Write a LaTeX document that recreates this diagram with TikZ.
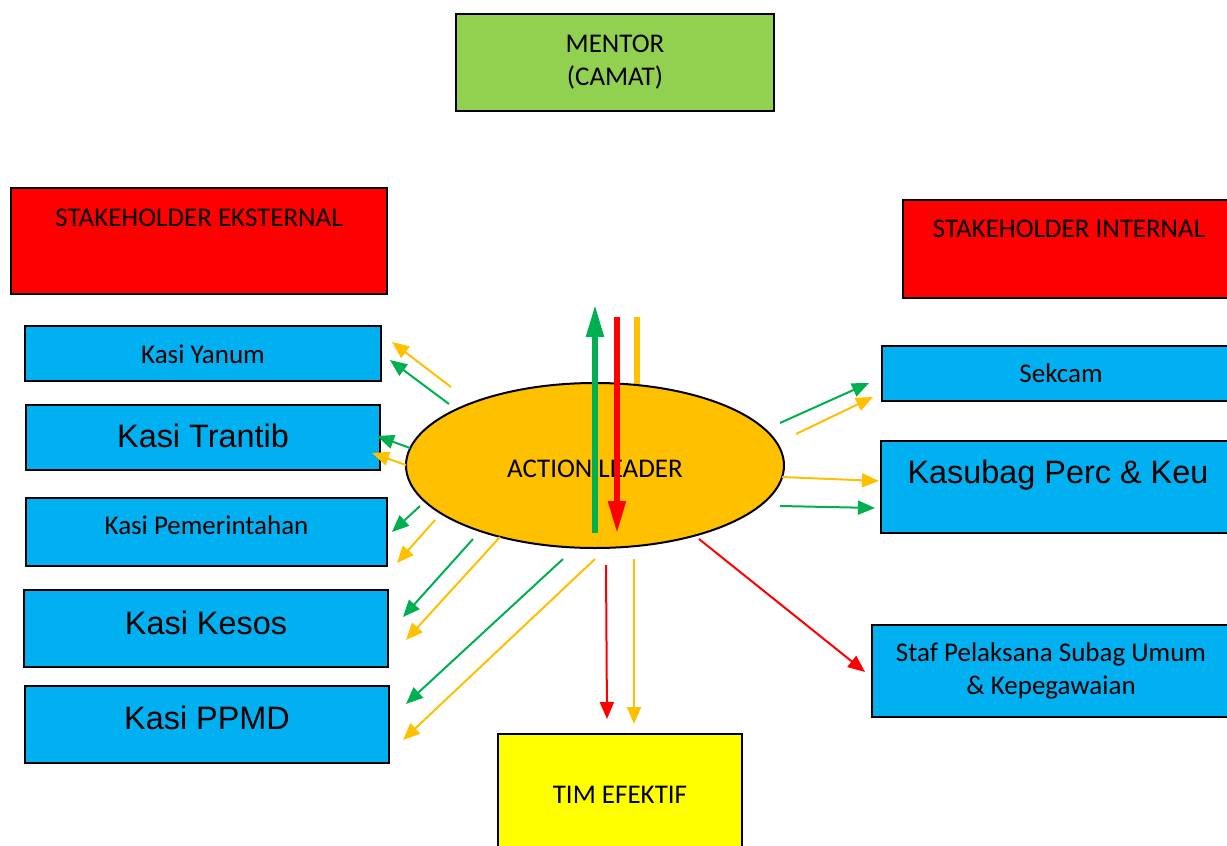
\documentclass[tikz,border=0pt]{standalone}
\usepackage{fontspec}
\setmainfont{Carlito}
\newfontfamily\arialf{Liberation Sans}
\usetikzlibrary{arrows.meta,shapes.geometric}
\definecolor{cblue}{HTML}{00B0F0}
\definecolor{cred}{HTML}{FF0000}
\definecolor{cgreenbox}{HTML}{92D050}
\definecolor{cyel}{HTML}{FFFF00}
\definecolor{corange}{HTML}{FFC000}
\definecolor{cgreen}{HTML}{00B050}
\begin{document}
\begin{tikzpicture}[x=0.5pt,y=-0.5pt,
  box/.style={draw=black, line width=1pt, inner sep=0pt, anchor=north west},
  cal/.style={font=\fontsize{13.5}{16.5}\selectfont},
  ari/.style={font=\arialf\fontsize{16.2}{19}\selectfont},
  arrthin/.style={line width=1pt, -{Triangle[length=8.5pt,width=7pt]}},
  bigline/.style={line width=2.6pt},
  bigarr/.style={line width=2.6pt, -{Triangle[length=16pt,width=8.5pt]}}]
\useasboundingbox (0,0) rectangle (1227,846);
\clip (0,0) rectangle (1227,846);

% boxes
\node[box, fill=cgreenbox, cal, align=center, minimum width=159pt, minimum height=48.5pt] (mentor) at (455,13) {MENTOR\\(CAMAT)};
\node[box, fill=cred, cal, minimum width=188pt, text height=19pt, text depth=34pt] (ext) at (10,187) {STAKEHOLDER EKSTERNAL};
\node[box, fill=cred, cal, minimum width=166pt, text height=18.5pt, text depth=30.5pt] (int) at (902,199) {STAKEHOLDER INTERNAL};

\node[box, fill=cblue, cal, minimum width=178pt, text height=18.5pt, text depth=9pt] (yanum) at (24,325) {Kasi Yanum};
\node[box, fill=cblue, ari, minimum width=177pt, text height=21pt, text depth=11.5pt] (trantib) at (25,404) {Kasi Trantib};
\node[box, fill=cblue, cal, minimum width=180.5pt, text height=18pt, text depth=16pt] (pem) at (25,497) {Kasi Pemerintahan};
\node[box, fill=cblue, ari, minimum width=182pt, text height=22pt, text depth=16.5pt] (kesos) at (23,589) {Kasi Kesos};
\node[box, fill=cblue, ari, minimum width=182pt, text height=21.5pt, text depth=17pt] (ppmd) at (24,685) {Kasi PPMD};

\node[box, fill=cblue, cal, minimum width=179pt, text height=18pt, text depth=9.5pt] (sekcam) at (881,345) {Sekcam};
\node[box, fill=cblue, ari, minimum width=177pt, text height=21pt, text depth=25pt] (kasubag) at (880,440) {Kasubag Perc \& Keu};
\node[box, fill=cblue, cal, align=center, minimum width=179pt, minimum height=46pt] (staf) at (871,624) {Staf Pelaksana Subag Umum\\\& Kepegawaian};

\node[box, fill=cyel, cal, minimum width=122pt, text height=34.5pt, text depth=30.5pt] (tim) at (497,733) {TIM EFEKTIF};

% orange line behind the ellipse
\coordinate (o1) at (637,317);
\coordinate (o2) at (637,533);
\draw[bigline, corange] (o1) -- (o2);

% ellipse
\node[ellipse, draw=black, line width=1pt, fill=corange, inner sep=0pt,
      minimum width=189pt, minimum height=82.5pt, cal, text height=12pt, text depth=0.5pt] (al) at (595,465.5) {ACTION LEADER};

% thick vertical arrows
\coordinate (g1) at (595,533);
\coordinate (g2) at (595,305);
\draw[bigarr, cgreen] (g1) -- (g2);
\coordinate (r1) at (617,317);
\coordinate (r2) at (617,533);
\draw[bigarr, cred] (r1) -- (r2);

% thin arrows
\foreach \n/\a/\b/\c/\d/\col in {
  1/451/387/392/342/corange,
  2/449/404/390/360/cgreen,
  3/410/448/377/436/cgreen,
  4/406/465/372/453/corange,
  5/420/506/392/532/cgreen,
  6/435/520/397/563/corange,
  7/473/539/403/617/cgreen,
  8/500/537/406/640/corange,
  9/563/559/406/704/cgreen,
  10/595/559/403/740/corange,
  11/606/565/607/719/cred,
  12/634/559/634/724/corange,
  13/780/423/869/383/cgreen,
  14/796/434/873/397/corange,
  15/782/477/879/481/corange,
  16/780/506/875/508/cgreen,
  17/699/539/865/672/cred}
{
  \coordinate (s\n) at (\a,\b);
  \coordinate (t\n) at (\c,\d);
  \draw[arrthin, \col] (s\n) -- (t\n);
}
\end{tikzpicture}
\end{document}
